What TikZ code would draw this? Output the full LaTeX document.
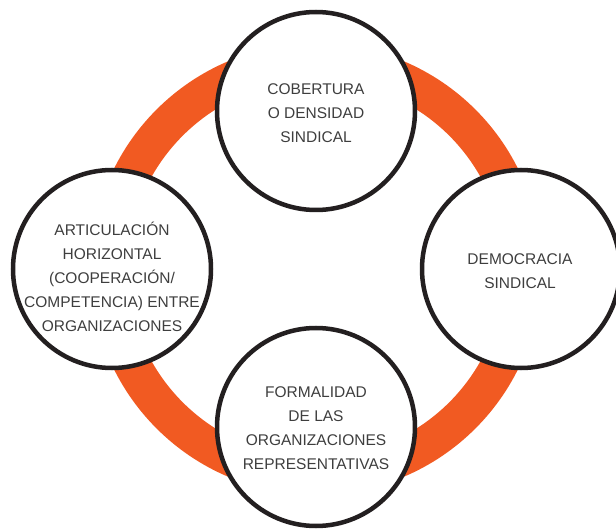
\documentclass[tikz,border=0pt]{standalone}
\usepackage{fontspec}
\setmainfont{Liberation Sans}
\definecolor{ringorange}{RGB}{241,90,34}
\definecolor{inkdark}{RGB}{35,31,32}
\definecolor{textgray}{RGB}{62,62,62}
\begin{document}
\begin{tikzpicture}[x=1pt,y=1pt,
  bubble/.style={circle,draw=inkdark,fill=white,line width=4.5pt,minimum size=198pt,inner sep=0pt},
  caption/.style={align=center,text=textgray,font=\fontsize{15.5}{24}\selectfont,inner sep=0pt},
  band/.style={draw=ringorange,line width=37pt}]
  \useasboundingbox (0,0) rectangle (616,528);
  % orange ring behind the four circles
  \coordinate (ctr) at (316,259);
  \draw[band] (ctr) circle (207);
  % the four circles
  \node[bubble] (top) at (316,417) {};
  \node[bubble] (left) at (112,259) {};
  \node[bubble] (right) at (521,259) {};
  \node[bubble] (bottom) at (316,101) {};
  % their texts
  \node[caption] (top-t) at (316,415) {COBERTURA\\O DENSIDAD\\SINDICAL};
  \node[caption] (left-t) at (112,251) {ARTICULACIÓN\\HORIZONTAL\\(COOPERACIÓN/\\COMPETENCIA) ENTRE\\ORGANIZACIONES};
  \node[caption] (right-t) at (520,257) {DEMOCRACIA\\SINDICAL};
  \node[caption] (bottom-t) at (316,100) {FORMALIDAD\\DE LAS\\ORGANIZACIONES\\REPRESENTATIVAS};
\end{tikzpicture}
\end{document}
